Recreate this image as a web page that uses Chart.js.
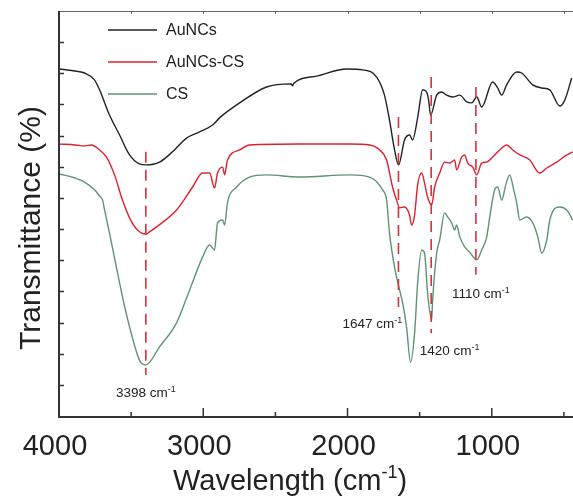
<!DOCTYPE html>
<html>
<head>
<meta charset="utf-8">
<script src="https://cdn.jsdelivr.net/npm/chart.js@4"></script>
<style>
  html, body { margin: 0; padding: 0; background: #fff; overflow: hidden; }
  #wrap { width: 573px; height: 497px; position: relative; }
</style>
</head>
<body>
<div id="wrap"><canvas id="c"></canvas></div>
<script>
// ---- Data (wavenumber in cm-1, transmittance in arbitrary offset units) ----
const seriesNames = ['AuNCs', 'AuNCs-CS', 'CS'];
const seriesColors = ['#222222', '#e0202c', '#5e9373'];

const wnAuNCs = [4000,3900,3823,3754,3719,3650,3580,3511,3442,3398,3303,3213,3116,3026,2935,2887,2748,2561,2390,2381,2372,2214,2006,1895,1798,1744,1709,1674,1646,1605,1570,1549,1514,1479,1452,1438,1424,1382,1347,1313,1271,1222,1174,1139,1104,1070,994,959,931,897,827,793,716,654,598,529,494,446];
const tAuNCs  = [11.14,11.08,11.01,10.79,10.47,9.66,9.02,8.38,8.09,8.06,8.15,8.48,8.92,9.12,9.34,9.57,10.05,10.56,10.66,10.60,10.68,10.91,11.14,11.11,10.88,10.30,9.50,8.54,8.06,8.86,9.02,8.86,9.57,10.47,10.40,10.14,9.66,10.30,10.40,10.30,10.24,10.30,10.08,10.05,10.24,9.92,10.72,10.53,10.30,10.63,11.04,11.01,10.63,10.53,10.47,9.95,10.14,10.85];

const wnAuNCsCS = [4000,3889,3823,3775,3719,3671,3615,3560,3511,3456,3398,3373,3324,3185,3074,3005,2956,2922,2901,2866,2852,2832,2748,2679,2332,1986,1847,1777,1729,1688,1660,1639,1605,1570,1556,1535,1514,1486,1466,1445,1417,1396,1361,1327,1292,1257,1244,1209,1188,1167,1132,1104,1070,1035,994,945,897,855,806,737,668,619,550,480,439];
const tAuNCsCS  = [8.73,8.70,8.67,8.70,8.54,8.31,7.74,6.93,6.36,5.97,5.84,5.91,6.07,6.61,7.35,7.80,7.80,7.32,7.80,7.99,7.74,8.22,8.54,8.70,8.73,8.73,8.70,8.54,8.22,7.35,6.93,6.68,6.71,6.45,6.13,6.45,7.42,7.80,7.48,7.03,6.77,7.35,7.80,8.15,8.12,8.22,7.90,8.31,8.38,8.12,7.99,7.74,8.12,8.15,8.31,8.54,8.70,8.54,8.38,8.22,7.80,7.96,8.15,8.38,8.48];

const wnCS = [4000,3889,3823,3754,3719,3698,3684,3650,3615,3580,3546,3511,3477,3456,3435,3398,3303,3185,3095,3005,2956,2922,2901,2866,2852,2832,2769,2679,2561,2332,1986,1847,1757,1729,1709,1674,1639,1618,1591,1563,1535,1514,1486,1466,1445,1417,1410,1382,1361,1327,1306,1278,1257,1244,1222,1188,1153,1104,1070,1035,1014,980,959,931,903,876,848,827,806,758,716,681,654,619,598,529,480,439];
const tCS  = [7.77,7.64,7.51,7.26,7.06,6.93,6.61,5.87,5.07,4.27,3.53,2.86,2.28,1.96,1.73,1.64,2.22,2.99,4.04,5.10,5.49,5.33,6.20,6.29,6.13,6.84,7.35,7.67,7.74,7.67,7.74,7.67,7.26,6.93,5.87,4.78,4.04,3.63,2.86,1.73,2.66,4.27,5.33,5.23,3.95,3.08,3.72,5.23,5.65,6.52,6.39,6.20,5.97,6.13,5.75,5.43,5.26,5.01,5.33,5.75,6.39,7.26,7.35,6.93,7.42,7.74,7.26,6.84,6.29,6.39,6.20,5.75,5.23,5.65,6.29,6.71,6.61,6.29];

// peak marker dashed lines
const peakWn     = [3398, 1647, 1420, 1110];
const peakTop    = [8.48, 9.60, 10.88, 10.56];
const peakBottom = [1.32, 3.50, 2.66, 4.53];

// peak labels
const peakLabelNum   = ['3398', '1647', '1420', '1110'];
const peakLabelWn    = [3398, 1620, 1500, 1276];
const peakLabelT     = [0.61, 2.83, 1.96, 3.79];
const peakLabelAlign = ['center', 'right', 'left', 'left'];

// axes
const xMin = 437, xMax = 4000;
const xMajorTicks = [1000, 2000, 3000, 4000];
const xMinorTicks = [500, 1500, 2500, 3500];
const yMin = 0, yMax = 13;
const yTicks = [1,2,3,4,5,6,7,8,9,10,11,12];

const FONT = "'Liberation Sans', Arial, Helvetica, sans-serif";
const MARK_RED = '#dc2f3c';

function pts(xs, ys) { return xs.map((x, i) => ({ x: x, y: ys[i] })); }

const datasets = [];
[[wnAuNCs, tAuNCs], [wnAuNCsCS, tAuNCsCS], [wnCS, tCS]].forEach((s, i) => {
  datasets.push({
    label: seriesNames[i],
    data: pts(s[0], s[1]),
    borderColor: seriesColors[i],
    borderWidth: 1.4,
    pointRadius: 0,
    cubicInterpolationMode: 'monotone',
    fill: false,
    order: 2 + i
  });
});
peakWn.forEach((w, i) => {
  datasets.push({
    label: 'marker' + w,
    data: [{ x: w, y: peakTop[i] }, { x: w, y: peakBottom[i] }],
    borderColor: MARK_RED,
    borderWidth: 1.6,
    borderDash: [11, 7],
    pointRadius: 0,
    fill: false,
    order: 0
  });
});

function drawSup(ctx, x, y, main, sup, tail, size, supSize, rise, align, color) {
  ctx.save();
  ctx.fillStyle = color;
  ctx.textBaseline = 'alphabetic';
  ctx.textAlign = 'left';
  ctx.font = size + 'px ' + FONT;
  const wMain = ctx.measureText(main).width;
  const wTail = tail ? ctx.measureText(tail).width : 0;
  ctx.font = supSize + 'px ' + FONT;
  const wSup = ctx.measureText(sup).width;
  const total = wMain + wSup + wTail;
  let sx = x;
  if (align === 'center') sx = x - total / 2;
  else if (align === 'right') sx = x - total;
  ctx.font = size + 'px ' + FONT;
  ctx.fillText(main, sx, y);
  ctx.font = supSize + 'px ' + FONT;
  ctx.fillText(sup, sx + wMain, y - rise);
  if (tail) {
    ctx.font = size + 'px ' + FONT;
    ctx.fillText(tail, sx + wMain + wSup, y);
  }
  ctx.restore();
}

const decorPlugin = {
  id: 'decor',
  afterDatasetsDraw(chart) {
    const ctx = chart.ctx;
    const a = chart.chartArea;
    const xs = chart.scales.x, ys = chart.scales.y;
    ctx.save();
    // top border (thin)
    ctx.strokeStyle = '#666';
    ctx.lineWidth = 1;
    ctx.beginPath();
    ctx.moveTo(a.left, a.top + 0.5);
    ctx.lineTo(a.right, a.top + 0.5);
    ctx.stroke();
    // top ticks
    [500,1000,1500,2000,2500,3000,3500].forEach(w => {
      const px = Math.round(xs.getPixelForValue(w)) + 0.5;
      ctx.beginPath();
      ctx.moveTo(px, a.top);
      ctx.lineTo(px, a.top + 3);
      ctx.stroke();
    });
    // main axes
    ctx.strokeStyle = '#333';
    ctx.lineWidth = 2;
    ctx.beginPath();
    ctx.moveTo(a.left, a.top);
    ctx.lineTo(a.left, a.bottom + 1);
    ctx.lineTo(a.right, a.bottom + 1);
    ctx.stroke();
    // y ticks (inward)
    ctx.lineWidth = 1.5;
    yTicks.forEach(v => {
      const py = Math.round(ys.getPixelForValue(v)) + 0.5;
      ctx.beginPath();
      ctx.moveTo(a.left, py);
      ctx.lineTo(a.left + 5, py);
      ctx.stroke();
    });
    // x ticks (inward)
    xMajorTicks.forEach(w => {
      const px = xs.getPixelForValue(w);
      ctx.beginPath();
      ctx.moveTo(px, a.bottom);
      ctx.lineTo(px, a.bottom - 8);
      ctx.stroke();
    });
    xMinorTicks.forEach(w => {
      const px = xs.getPixelForValue(w);
      ctx.beginPath();
      ctx.moveTo(px, a.bottom);
      ctx.lineTo(px, a.bottom - 4);
      ctx.stroke();
    });
    ctx.restore();

    // legend
    ctx.save();
    const legY = [30, 62, 94];
    for (let i = 0; i < 3; i++) {
      const ds = chart.data.datasets[i];
      ctx.strokeStyle = ds.borderColor;
      ctx.lineWidth = 1.6;
      ctx.beginPath();
      ctx.moveTo(108, legY[i]);
      ctx.lineTo(157, legY[i]);
      ctx.stroke();
      ctx.fillStyle = '#222';
      ctx.font = '16px ' + FONT;
      ctx.textBaseline = 'middle';
      ctx.textAlign = 'left';
      ctx.fillText(ds.label, 166, legY[i] + 1);
    }
    ctx.restore();

    // peak labels
    peakLabelNum.forEach((n, i) => {
      const px = xs.getPixelForValue(peakLabelWn[i]);
      const py = ys.getPixelForValue(peakLabelT[i]);
      drawSup(ctx, px, py, n + ' cm', '-1', '', 13.5, 9, 5, peakLabelAlign[i], '#222');
    });

    // axis titles
    drawSup(ctx, 173, 490, 'Wavelength (cm', '-1', ')', 29, 18, 12, 'left', '#222');
    ctx.save();
    ctx.translate(40, 228);
    ctx.rotate(-Math.PI / 2);
    ctx.fillStyle = '#222';
    ctx.font = '30px ' + FONT;
    ctx.textAlign = 'center';
    ctx.textBaseline = 'alphabetic';
    ctx.fillText('Transmittance (%)', 0, 0);
    ctx.restore();
  }
};

new Chart(document.getElementById('c'), {
  type: 'line',
  data: { datasets: datasets },
  options: {
    responsive: true,
    maintainAspectRatio: false,
    animation: false,
    layout: { padding: { top: 11, left: 0, right: 0, bottom: 0 } },
    plugins: { legend: { display: false }, tooltip: { enabled: false } },
    scales: {
      x: {
        type: 'linear',
        reverse: true,
        min: xMin,
        max: xMax,
        grid: { display: false, drawTicks: false, tickLength: 0 },
        border: { display: false },
        afterBuildTicks(scale) { scale.ticks = xMajorTicks.map(v => ({ value: v })); },
        afterFit(scale) { scale.height = 81; },
        ticks: {
          autoSkip: false,
          maxRotation: 0,
          padding: 16,
          labelOffset: -4,
          color: '#222',
          font: { family: FONT, size: 29, lineHeight: 1 },
          callback: v => String(v)
        }
      },
      y: {
        type: 'linear',
        min: yMin,
        max: yMax,
        grid: { display: false, drawTicks: false },
        border: { display: false },
        ticks: { display: false },
        afterFit(scale) { scale.width = 59; }
      }
    }
  },
  plugins: [decorPlugin]
});
</script>
</body>
</html>
